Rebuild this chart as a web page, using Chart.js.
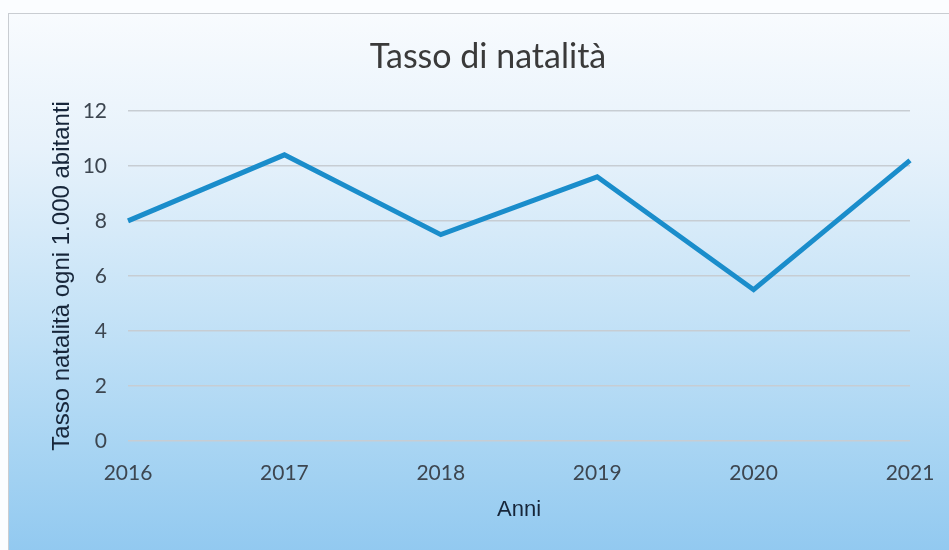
<!DOCTYPE html>
<html>
<head>
<meta charset="utf-8">
<script src="https://cdn.jsdelivr.net/npm/chart.js@4"></script>
<style>
  html, body { margin: 0; padding: 0; background: #fbfdff; }
  .panel {
    position: absolute; left: 8px; top: 13px; width: 941px; height: 537px;
    border-top: 1px solid #c9cdd2; border-left: 1px solid #c9cdd2;
    background: linear-gradient(to bottom, #f8fbfe 0%, #e7f2fb 25%, #c6e3f7 55%, #a9d5f3 80%, #92c9f0 100%);
  }
  #wrap { position: absolute; left: 0; top: 0; width: 949px; height: 550px; }
</style>
</head>
<body>
<div class="panel"></div>
<div id="wrap"><canvas id="myChart"></canvas></div>
<script>
let years = ["2016", "2017", "2018", "2019", "2020", "2021"];
let birthRate = [8.0, 10.4, 7.5, 9.6, 5.5, 10.2];
let yTicks = [0, 2, 4, 6, 8, 10, 12];

let ctx = document.getElementById("myChart").getContext("2d");
let chart = new Chart(ctx, {
  type: "line",
  data: {
    labels: years,
    datasets: [
      {
        label: "Tasso di natalità",
        data: birthRate,
        borderColor: "#1a8dcb",
        backgroundColor: "#1a8dcb",
        borderWidth: 5,
        pointRadius: 0,
        tension: 0,
        borderJoinStyle: "miter",
      },
    ],
  },
  options: {
    responsive: true,
    maintainAspectRatio: false,
    animation: false,
    // left padding shifts the title's centre to the right
    layout: { padding: { left: 66, right: 39, top: 0, bottom: 0 } },
    plugins: {
      legend: { display: false },
      tooltip: { enabled: false },
      title: {
        display: true,
        text: "Tasso di natalità",
        color: "#3a3a3a",
        font: { family: "Lato", size: 34, weight: "normal" },
        padding: { top: 37, bottom: 33 },
      },
    },
    scales: {
      x: {
        offset: false,
        grid: { display: false },
        border: { display: false },
        ticks: {
          color: "#3d4650",
          font: { family: "Lato", size: 21 },
          padding: 12,
          maxRotation: 0,
        },
        title: {
          display: true,
          text: "Anni",
          color: "#17263a",
          font: { family: "Liberation Sans", size: 22 },
          padding: { top: 0, bottom: 27 },
        },
        afterFit: (scale) => {
          scale.height = 109;
        },
      },
      y: {
        min: 0,
        max: 12,
        afterBuildTicks: (scale) => {
          scale.ticks = yTicks.map((v) => ({ value: v }));
        },
        grid: { color: "#c7cdd3", lineWidth: 1.5, drawTicks: false },
        border: { display: false },
        ticks: {
          color: "#3d4650",
          font: { family: "Lato", size: 21 },
          padding: 21,
        },
        title: {
          display: true,
          text: "Tasso natalità ogni 1.000 abitanti",
          color: "#17263a",
          font: { family: "Liberation Sans", size: 24 },
          // negative offset pulls the title out into the left padding
          padding: { top: -18, bottom: 0 },
        },
        afterFit: (scale) => {
          scale.width = 62;
        },
      },
    },
  },
});
</script>
</body>
</html>
